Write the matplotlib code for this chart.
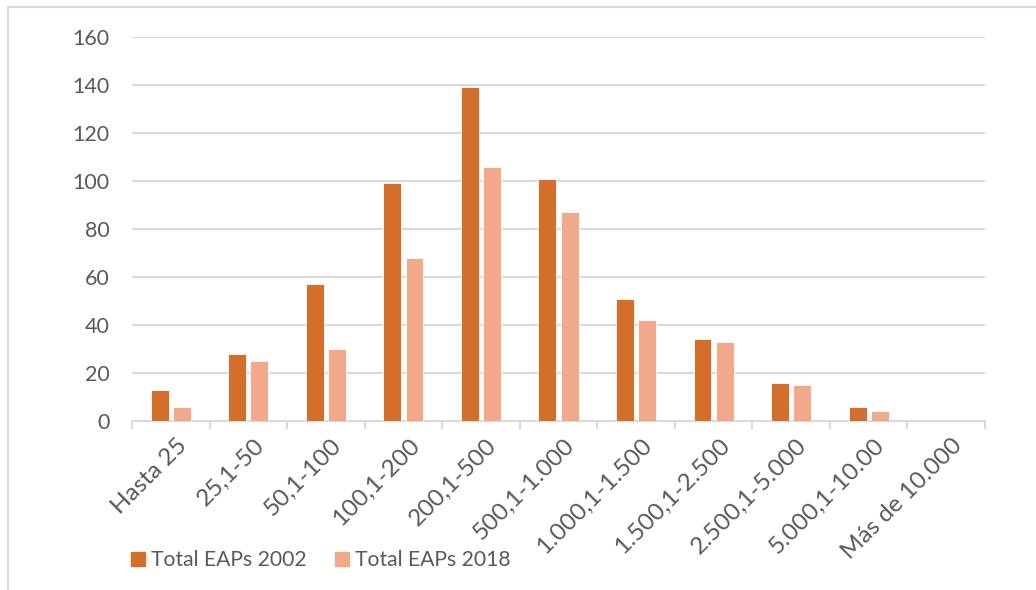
import matplotlib
matplotlib.use("Agg")
import matplotlib.pyplot as plt
import matplotlib.transforms as mtransforms
from matplotlib.patches import Rectangle
from matplotlib.lines import Line2D
import numpy as np

categories = ["Hasta 25", "25,1-50", "50,1-100", "100,1-200", "200,1-500",
              "500,1-1.000", "1.000,1-1.500", "1.500,1-2.500", "2.500,1-5.000",
              "5.000,1-10.00", "Más de 10.000"]
eaps_2002 = [13, 28, 57, 99, 139, 101, 51, 34, 16, 6, 0]
eaps_2018 = [6, 25, 30, 68, 106, 87, 42, 33, 15, 4, 0]
series_names = ["Total EAPs 2002", "Total EAPs 2018"]
yticks = [0, 20, 40, 60, 80, 100, 120, 140, 160]

c2002 = "#D36F2B"
c2018 = "#F1A88B"
txt = "#595959"
grid = "#D9D9D9"

plt.rcParams['font.family'] = ['Lato', 'DejaVu Sans']

W, H = 1036, 590
fig = plt.figure(figsize=(W/100, H/100), dpi=100)

# frame lines (top and left)
fig.add_artist(Line2D([7.5/W, 1], [1-6.5/H, 1-6.5/H], color=grid, lw=1.5, transform=fig.transFigure))
fig.add_artist(Line2D([7.5/W, 7.5/W], [0, 1-6.5/H], color=grid, lw=1.5, transform=fig.transFigure))

x0, x1 = 132, 985
y0, y1 = 421, 37
ax = fig.add_axes([x0/W, 1-y0/H, (x1-x0)/W, (y0-y1)/H])

x = np.arange(len(categories))
bw = 0.23
off = 0.143
ax.bar(x - off, eaps_2002, bw, color=c2002, edgecolor="white", linewidth=0.6, zorder=3)
ax.bar(x + off, eaps_2018, bw, color=c2018, edgecolor="white", linewidth=0.6, zorder=3)

ax.set_xlim(-0.5, len(categories) - 0.5)
ax.set_ylim(0, 160)
ax.set_yticks(yticks)
ax.yaxis.grid(True, color=grid, lw=1.5, zorder=0)
ax.set_axisbelow(True)
for s in ["left", "right", "top"]:
    ax.spines[s].set_visible(False)
ax.spines["bottom"].set_color(grid)
ax.spines["bottom"].set_linewidth(1.5)
ax.tick_params(axis="y", length=0, pad=16, labelsize=15.5, labelcolor=txt)

ax.set_xticks(np.arange(-0.5, len(categories)), minor=False)
ax.set_xticklabels([])
ax.tick_params(axis="x", which="major", length=6, width=1.5, color=grid)
ax.set_xticks(x, minor=True)
ax.set_xticklabels(categories, minor=True, rotation=45, ha="right", rotation_mode="anchor",
                   fontsize=17.5, color=txt)
ax.tick_params(axis="x", which="minor", length=0, pad=10)
shift = mtransforms.ScaledTranslation(5/100, 0, fig.dpi_scale_trans)
for lab in ax.get_xticklabels(minor=True):
    lab.set_transform(lab.get_transform() + shift)

# legend
handles = [Rectangle((0, 0), 1, 1, color=c2002), Rectangle((0, 0), 1, 1, color=c2018)]
leg = fig.legend(handles, series_names, loc="center left", bbox_to_anchor=(112/W, 1-560/H),
                 ncol=2, frameon=False, fontsize=15.2, handlelength=0.65, handleheight=0.65,
                 handletextpad=0.3, columnspacing=1.35, labelcolor=txt)

fig.savefig("out.png", dpi=100)
